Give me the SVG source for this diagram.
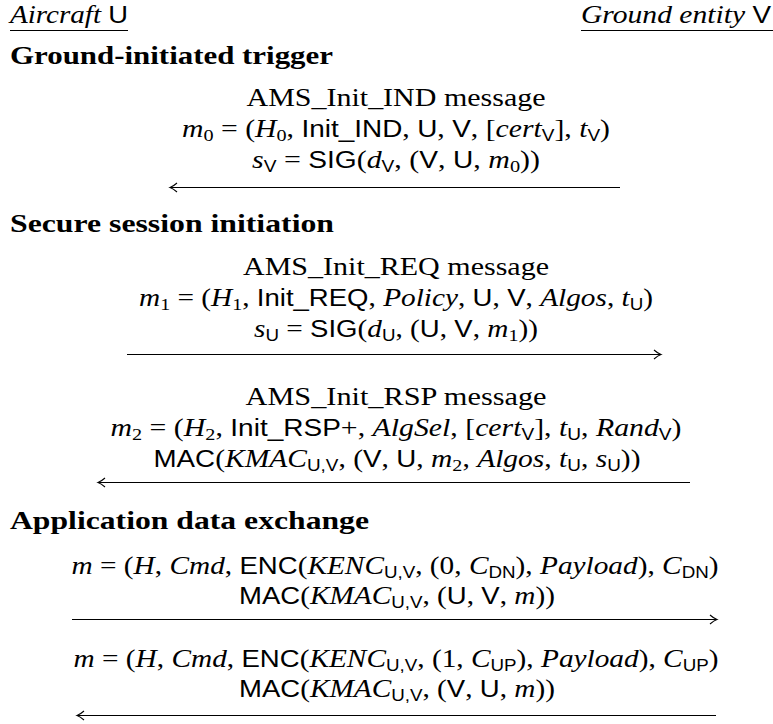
<svg xmlns="http://www.w3.org/2000/svg" width="773" height="724" viewBox="0 0 773 724">
<defs>
<style>
.t{font-family:"Liberation Serif","Times New Roman",serif;font-size:25px;fill:#000}
.i{font-style:italic}
.sf{font-family:"Liberation Sans",Arial,sans-serif;font-size:23.5px;font-style:normal}
.sb{font-size:17px}
.sfs{font-family:"Liberation Sans",Arial,sans-serif;font-size:16px;font-style:normal}
.h{font-weight:bold}
.rule{stroke:#000;stroke-width:1.1;fill:none}
.arr{stroke:#000;stroke-width:1.1;fill:none;marker-end:url(#ah)}
</style>
<marker id="ah" viewBox="-10 -6 12 12" refX="0" refY="0" markerWidth="12" markerHeight="12" markerUnits="userSpaceOnUse" orient="auto">
<path d="M-7,-4.5 Q-3,-1 0,0 Q-3,1 -7,4.5" fill="none" stroke="#000" stroke-width="1.1"/>
</marker>
</defs>
<rect width="773" height="724" fill="#fff"/>

<g id="party-U">
<text class="t" x="10" y="23" textLength="118" lengthAdjust="spacingAndGlyphs"><tspan class="i">Aircraft</tspan> <tspan class="sf">U</tspan></text>
<line class="rule" x1="10" y1="30.5" x2="128" y2="30.5"/>
</g>
<g id="party-V">
<text class="t" x="771" y="23" text-anchor="end" textLength="190" lengthAdjust="spacingAndGlyphs"><tspan class="i">Ground entity</tspan> <tspan class="sf">V</tspan></text>
<line class="rule" x1="581" y1="30.5" x2="773" y2="30.5"/>
</g>

<g id="sec-trigger">
<text class="t h" x="10" y="64" textLength="323" lengthAdjust="spacingAndGlyphs">Ground-initiated trigger</text>
</g>

<g id="msg-init-ind">
<text class="t" x="396" y="106" text-anchor="middle" textLength="299" lengthAdjust="spacingAndGlyphs">AMS_Init_IND message</text>
<text class="t" x="396" y="137" text-anchor="middle" textLength="428" lengthAdjust="spacingAndGlyphs"><tspan class="i">m</tspan><tspan class="sb" dy="4">0</tspan><tspan dy="-4"> = (</tspan><tspan class="i">H</tspan><tspan class="sb" dy="4">0</tspan><tspan dy="-4">, </tspan><tspan class="sf">Init_IND</tspan>, <tspan class="sf">U</tspan>, <tspan class="sf">V</tspan>, [<tspan class="i">cert</tspan><tspan class="sfs" dy="4">V</tspan><tspan dy="-4">], </tspan><tspan class="i">t</tspan><tspan class="sfs" dy="4">V</tspan><tspan dy="-4">)</tspan></text>
<text class="t" x="396" y="168" text-anchor="middle" textLength="288" lengthAdjust="spacingAndGlyphs"><tspan class="i">s</tspan><tspan class="sfs" dy="4">V</tspan><tspan dy="-4"> = </tspan><tspan class="sf">SIG</tspan>(<tspan class="i">d</tspan><tspan class="sfs" dy="4">V</tspan><tspan dy="-4">, (</tspan><tspan class="sf">V</tspan>, <tspan class="sf">U</tspan>, <tspan class="i">m</tspan><tspan class="sb" dy="4">0</tspan><tspan dy="-4">))</tspan></text>
</g>

<g id="sec-session">
<text class="t h" x="10" y="232" textLength="324" lengthAdjust="spacingAndGlyphs">Secure session initiation</text>
</g>

<g id="msg-init-req">
<text class="t" x="396" y="275" text-anchor="middle" textLength="306" lengthAdjust="spacingAndGlyphs">AMS_Init_REQ message</text>
<text class="t" x="396" y="306" text-anchor="middle" textLength="514" lengthAdjust="spacingAndGlyphs"><tspan class="i">m</tspan><tspan class="sb" dy="4">1</tspan><tspan dy="-4"> = (</tspan><tspan class="i">H</tspan><tspan class="sb" dy="4">1</tspan><tspan dy="-4">, </tspan><tspan class="sf">Init_REQ</tspan>, <tspan class="i">Policy</tspan>, <tspan class="sf">U</tspan>, <tspan class="sf">V</tspan>, <tspan class="i">Algos</tspan>, <tspan class="i">t</tspan><tspan class="sfs" dy="4">U</tspan><tspan dy="-4">)</tspan></text>
<text class="t" x="396" y="337" text-anchor="middle" textLength="284" lengthAdjust="spacingAndGlyphs"><tspan class="i">s</tspan><tspan class="sfs" dy="4">U</tspan><tspan dy="-4"> = </tspan><tspan class="sf">SIG</tspan>(<tspan class="i">d</tspan><tspan class="sfs" dy="4">U</tspan><tspan dy="-4">, (</tspan><tspan class="sf">U</tspan>, <tspan class="sf">V</tspan>, <tspan class="i">m</tspan><tspan class="sb" dy="4">1</tspan><tspan dy="-4">))</tspan></text>
</g>

<g id="msg-init-rsp">
<text class="t" x="396" y="405" text-anchor="middle" textLength="301" lengthAdjust="spacingAndGlyphs">AMS_Init_RSP message</text>
<text class="t" x="396" y="436" text-anchor="middle" textLength="571" lengthAdjust="spacingAndGlyphs"><tspan class="i">m</tspan><tspan class="sb" dy="4">2</tspan><tspan dy="-4"> = (</tspan><tspan class="i">H</tspan><tspan class="sb" dy="4">2</tspan><tspan dy="-4">, </tspan><tspan class="sf">Init_RSP</tspan>+, <tspan class="i">AlgSel</tspan>, [<tspan class="i">cert</tspan><tspan class="sfs" dy="4">V</tspan><tspan dy="-4">], </tspan><tspan class="i">t</tspan><tspan class="sfs" dy="4">U</tspan><tspan dy="-4">, </tspan><tspan class="i">Rand</tspan><tspan class="sfs" dy="4">V</tspan><tspan dy="-4">)</tspan></text>
<text class="t" x="397" y="467" text-anchor="middle" textLength="487" lengthAdjust="spacingAndGlyphs"><tspan class="sf">MAC</tspan>(<tspan class="i">KMAC</tspan><tspan class="sfs" dy="4">U,V</tspan><tspan dy="-4">, (</tspan><tspan class="sf">V</tspan>, <tspan class="sf">U</tspan>, <tspan class="i">m</tspan><tspan class="sb" dy="4">2</tspan><tspan dy="-4">, </tspan><tspan class="i">Algos</tspan>, <tspan class="i">t</tspan><tspan class="sfs" dy="4">U</tspan><tspan dy="-4">, </tspan><tspan class="i">s</tspan><tspan class="sfs" dy="4">U</tspan><tspan dy="-4">))</tspan></text>
</g>

<g id="sec-app">
<text class="t h" x="10" y="529" textLength="359" lengthAdjust="spacingAndGlyphs">Application data exchange</text>
</g>

<g id="msg-data-dn">
<text class="t" x="395" y="574" text-anchor="middle" textLength="647" lengthAdjust="spacingAndGlyphs"><tspan class="i">m</tspan> = (<tspan class="i">H</tspan>, <tspan class="i">Cmd</tspan>, <tspan class="sf">ENC</tspan>(<tspan class="i">KENC</tspan><tspan class="sfs" dy="4">U,V</tspan><tspan dy="-4">, (0, </tspan><tspan class="i">C</tspan><tspan class="sfs" dy="4">DN</tspan><tspan dy="-4">), </tspan><tspan class="i">Payload</tspan>), <tspan class="i">C</tspan><tspan class="sfs" dy="4">DN</tspan><tspan dy="-4">)</tspan></text>
<text class="t" x="397" y="604" text-anchor="middle" textLength="316" lengthAdjust="spacingAndGlyphs"><tspan class="sf">MAC</tspan>(<tspan class="i">KMAC</tspan><tspan class="sfs" dy="4">U,V</tspan><tspan dy="-4">, (</tspan><tspan class="sf">U</tspan>, <tspan class="sf">V</tspan>, <tspan class="i">m</tspan>))</text>
</g>

<g id="msg-data-up">
<text class="t" x="396" y="667" text-anchor="middle" textLength="645" lengthAdjust="spacingAndGlyphs"><tspan class="i">m</tspan> = (<tspan class="i">H</tspan>, <tspan class="i">Cmd</tspan>, <tspan class="sf">ENC</tspan>(<tspan class="i">KENC</tspan><tspan class="sfs" dy="4">U,V</tspan><tspan dy="-4">, (1, </tspan><tspan class="i">C</tspan><tspan class="sfs" dy="4">UP</tspan><tspan dy="-4">), </tspan><tspan class="i">Payload</tspan>), <tspan class="i">C</tspan><tspan class="sfs" dy="4">UP</tspan><tspan dy="-4">)</tspan></text>
<text class="t" x="397" y="697" text-anchor="middle" textLength="316" lengthAdjust="spacingAndGlyphs"><tspan class="sf">MAC</tspan>(<tspan class="i">KMAC</tspan><tspan class="sfs" dy="4">U,V</tspan><tspan dy="-4">, (</tspan><tspan class="sf">V</tspan>, <tspan class="sf">U</tspan>, <tspan class="i">m</tspan>))</text>
</g>

<g id="connectors">
<path id="arrow-ind" class="arr" d="M620,187.5 H170"/>
<path id="arrow-req" class="arr" d="M127,354.5 H661"/>
<path id="arrow-rsp" class="arr" d="M690,482.5 H98"/>
<path id="arrow-dn" class="arr" d="M72,619.5 H717"/>
<path id="arrow-up" class="arr" d="M716,715.5 H77"/>
</g>
</svg>
